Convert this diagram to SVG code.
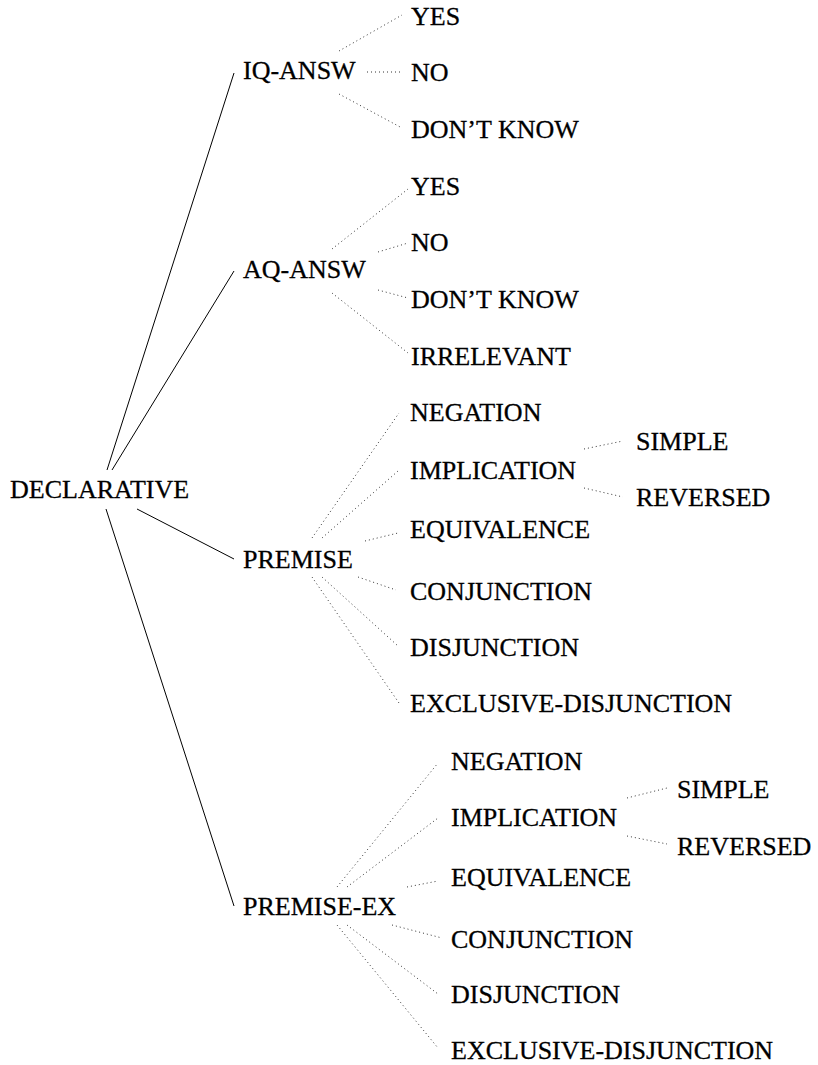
<svg xmlns="http://www.w3.org/2000/svg" width="818" height="1065" viewBox="0 0 818 1065">
<style>
text{font-family:"Liberation Serif","Times New Roman",serif;font-size:26px;fill:#000;stroke:#000;stroke-width:0.3}
.solid{stroke:#000;stroke-width:1;fill:none}
.dot{stroke:#333;stroke-width:1;stroke-dasharray:1 3;fill:none}
</style>
<rect width="818" height="1065" fill="#fff"/>
<g id="connectors">
<line class="solid" x1="107" y1="470" x2="234" y2="73"/>
<line class="solid" x1="112" y1="470" x2="234" y2="271"/>
<line class="solid" x1="137" y1="509" x2="234" y2="559"/>
<line class="solid" x1="106" y1="509" x2="234" y2="906"/>
<line class="dot" x1="339" y1="51" x2="402" y2="15"/>
<line class="dot" x1="367" y1="72" x2="402" y2="72"/>
<line class="dot" x1="339" y1="94" x2="402" y2="128"/>
<line class="dot" x1="332" y1="249" x2="408" y2="189"/>
<line class="dot" x1="378" y1="252" x2="408" y2="243"/>
<line class="dot" x1="378" y1="290" x2="408" y2="298"/>
<line class="dot" x1="332" y1="293" x2="408" y2="353"/>
<line class="dot" x1="312" y1="538" x2="399" y2="413"/>
<line class="dot" x1="322" y1="538" x2="398" y2="471"/>
<line class="dot" x1="365" y1="541" x2="398" y2="533"/>
<line class="dot" x1="358" y1="577" x2="396" y2="590"/>
<line class="dot" x1="322" y1="577" x2="398" y2="646"/>
<line class="dot" x1="312" y1="577" x2="399" y2="703"/>
<line class="dot" x1="584" y1="449" x2="623" y2="441"/>
<line class="dot" x1="584" y1="488" x2="623" y2="497"/>
<line class="dot" x1="337" y1="887" x2="438" y2="763"/>
<line class="dot" x1="347" y1="887" x2="438" y2="818"/>
<line class="dot" x1="407" y1="887" x2="438" y2="881"/>
<line class="dot" x1="392" y1="925" x2="442" y2="938"/>
<line class="dot" x1="347" y1="925" x2="438" y2="994"/>
<line class="dot" x1="337" y1="925" x2="438" y2="1048"/>
<line class="dot" x1="627" y1="798" x2="667" y2="788"/>
<line class="dot" x1="627" y1="836" x2="667" y2="844"/>
</g>
<g id="declarative"><text x="10" y="498">DECLARATIVE</text></g>
<g id="iq-answ"><text x="243" y="79">IQ-ANSW</text></g>
<g id="iq-yes"><text x="411" y="25">YES</text></g>
<g id="iq-no"><text x="411" y="81">NO</text></g>
<g id="iq-dontknow"><text x="411" y="138">DON’T KNOW</text></g>
<g id="aq-answ"><text x="243" y="278">AQ-ANSW</text></g>
<g id="aq-yes"><text x="411" y="195">YES</text></g>
<g id="aq-no"><text x="411" y="251">NO</text></g>
<g id="aq-dontknow"><text x="411" y="308">DON’T KNOW</text></g>
<g id="aq-irrelevant"><text x="411" y="365">IRRELEVANT</text></g>
<g id="premise"><text x="243" y="568">PREMISE</text></g>
<g id="p-negation"><text x="410" y="421">NEGATION</text></g>
<g id="p-implication"><text x="410" y="479">IMPLICATION</text></g>
<g id="p-simple"><text x="636" y="450">SIMPLE</text></g>
<g id="p-reversed"><text x="636" y="506">REVERSED</text></g>
<g id="p-equivalence"><text x="410" y="538">EQUIVALENCE</text></g>
<g id="p-conjunction"><text x="410" y="600">CONJUNCTION</text></g>
<g id="p-disjunction"><text x="410" y="656">DISJUNCTION</text></g>
<g id="p-exclusive"><text x="410" y="712">EXCLUSIVE-DISJUNCTION</text></g>
<g id="premise-ex"><text x="243" y="915">PREMISE-EX</text></g>
<g id="px-negation"><text x="451" y="770">NEGATION</text></g>
<g id="px-implication"><text x="451" y="826">IMPLICATION</text></g>
<g id="px-simple"><text x="677" y="798">SIMPLE</text></g>
<g id="px-reversed"><text x="677" y="855">REVERSED</text></g>
<g id="px-equivalence"><text x="451" y="886">EQUIVALENCE</text></g>
<g id="px-conjunction"><text x="451" y="948">CONJUNCTION</text></g>
<g id="px-disjunction"><text x="451" y="1003">DISJUNCTION</text></g>
<g id="px-exclusive"><text x="451" y="1059">EXCLUSIVE-DISJUNCTION</text></g>
</svg>
